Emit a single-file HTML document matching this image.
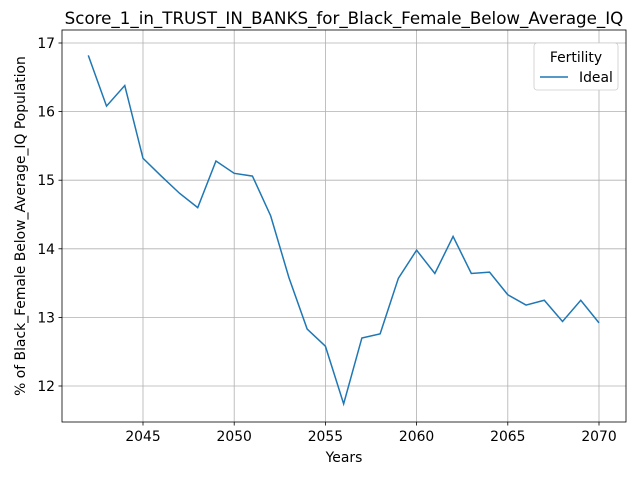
<!DOCTYPE html>
<html><head><meta charset="utf-8"><style>
body{margin:0;background:#fff;}
svg text{font-family:"DejaVu Sans","Liberation Sans",sans-serif;fill:#000;}
</style></head><body>
<svg id="chart" width="640" height="480"></svg>
<script>
const years=[2042,2043,2044,2045,2046,2047,2048,2049,2050,2051,2052,2053,2054,2055,2056,2057,2058,2059,2060,2061,2062,2063,2064,2065,2066,2067,2068,2069,2070];
const idealValues=[16.82,16.08,16.38,15.32,15.06,14.81,14.60,15.28,15.10,15.06,14.48,13.58,12.83,12.58,11.74,12.70,12.76,13.57,13.98,13.64,14.18,13.64,13.66,13.33,13.18,13.25,12.94,13.25,12.92];
const xTicks=[2045,2050,2055,2060,2065,2070];
const yTicks=[12,13,14,15,16,17];
const L=62,R=626,T=30,B=422;
const FS=13.9;
const xs=v=>143+(v-2045)*(599-143)/25;
const ys=v=>386-(v-12)*(386-43)/5;
const svg=document.getElementById('chart');
const NS='http://www.w3.org/2000/svg';
function mk(tag,attrs,parent){const e=document.createElementNS(NS,tag);for(const k in attrs)e.setAttribute(k,attrs[k]);(parent||svg).appendChild(e);return e;}
xTicks.forEach(t=>{
 const g=mk('line',{x1:xs(t),x2:xs(t),y1:T,y2:B,stroke:'#b0b0b0','stroke-width':0.8});
 
 
 mk('line',{x1:xs(t),x2:xs(t),y1:B,y2:B+3.5,stroke:'#000','stroke-width':0.8});
 const tx=mk('text',{x:xs(t),y:B+19,'font-size':FS,'text-anchor':'middle'});tx.textContent=t;
 
 
});
yTicks.forEach(t=>{
 const g=mk('line',{x1:L,x2:R,y1:ys(t),y2:ys(t),stroke:'#b0b0b0','stroke-width':0.8});
 
 
 mk('line',{x1:L-3.5,x2:L,y1:ys(t),y2:ys(t),stroke:'#000','stroke-width':0.8});
 const tx=mk('text',{x:L-7,y:ys(t)+5,'font-size':FS,'text-anchor':'end'});tx.textContent=t;
 
 
});
const frame=mk('rect',{x:L,y:T,width:R-L,height:B-T,fill:'none',stroke:'#000','stroke-width':0.8});


const line=mk('polyline',{points:years.map((y,i)=>xs(y)+','+ys(idealValues[i])).join(' '),fill:'none',stroke:'#1f77b4','stroke-width':1.5});


const title=mk('text',{x:(L+R)/2,y:T-6,'font-size':16.7,'text-anchor':'middle'});title.textContent='Score_1_in_TRUST_IN_BANKS_for_Black_Female_Below_Average_IQ';


const xl=mk('text',{x:(L+R)/2,y:462,'font-size':FS,'text-anchor':'middle'});xl.textContent='Years';


const yl=mk('text',{x:0,y:0,'font-size':FS,'text-anchor':'middle',transform:'translate(25,'+((T+B)/2)+') rotate(-90)'});yl.textContent='% of Black_Female Below_Average_IQ Population';


const lg=mk('g',{});


mk('rect',{x:534,y:43,width:84,height:47,rx:3,fill:'#fff',stroke:'#ccc','stroke-width':0.8},lg);
const lt=mk('text',{x:576,y:62,'font-size':FS,'text-anchor':'middle'},lg);lt.textContent='Fertility';
const ll=mk('line',{x1:540,x2:568,y1:77,y2:77,stroke:'#1f77b4','stroke-width':1.5},lg);


const le=mk('text',{x:579,y:82,'font-size':FS},lg);le.textContent='Ideal';
</script>
</body></html>
